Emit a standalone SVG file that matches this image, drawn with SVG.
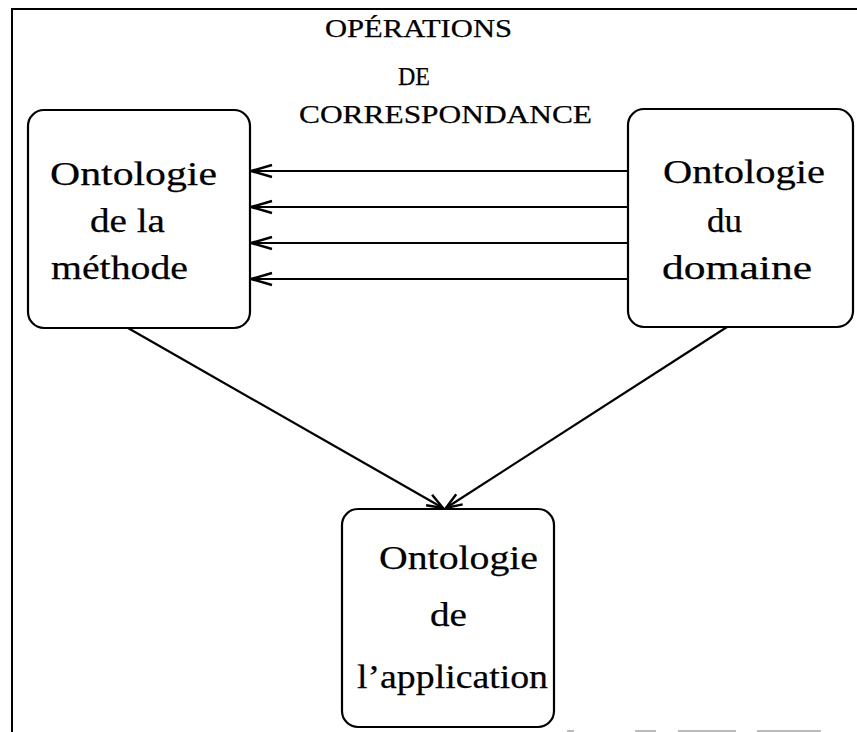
<svg xmlns="http://www.w3.org/2000/svg" width="857" height="732" viewBox="0 0 857 732">
<style>
.frame{fill:none;stroke:#000;stroke-width:2}
.box{fill:#fff;stroke:#000;stroke-width:2.2}
.lbl{font-family:"Liberation Serif","Times New Roman",serif;font-size:34px;fill:#000;stroke:#000;stroke-width:0.25}
.top{font-family:"Liberation Serif","Times New Roman",serif;font-size:25px;fill:#000;stroke:#000;stroke-width:0.25}
.conn{stroke:#000;stroke-width:2.2;fill:none}
.head{stroke:#000;stroke-width:2.4;fill:none;stroke-linejoin:miter}
</style>
<defs>
<marker id="arrH" markerUnits="userSpaceOnUse" markerWidth="24" markerHeight="16" viewBox="-1 -8 24 16" refX="21" refY="0" orient="auto" overflow="visible">
<path class="head" d="M0,-6 L21,0 L0,6"/>
</marker>
<marker id="arrD" markerUnits="userSpaceOnUse" markerWidth="20" markerHeight="16" viewBox="-1 -8 20 16" refX="16" refY="0" orient="auto" overflow="visible">
<path class="head" d="M0,-6 L16,0 L0,6"/>
</marker>
</defs>
<rect width="857" height="732" fill="#fff"/>
<g id="frame">
<path class="frame" d="M12,732 L12,9 L857,9"/>
<path d="M567,731 H574 M635,731 H656 M678,731 H736 M757,731 H821" stroke="#bbb" stroke-width="2" fill="none"/>
</g>
<g id="title">
<text class="top" x="325" y="37" textLength="187" lengthAdjust="spacingAndGlyphs">OPÉRATIONS</text>
<text class="top" x="398" y="85" textLength="32" lengthAdjust="spacingAndGlyphs">DE</text>
<text class="top" x="299" y="123" textLength="293" lengthAdjust="spacingAndGlyphs">CORRESPONDANCE</text>
</g>
<g id="connectors">
<line class="conn" x1="628" y1="171" x2="251" y2="171" marker-end="url(#arrH)"/>
<line class="conn" x1="628" y1="207" x2="251" y2="207" marker-end="url(#arrH)"/>
<line class="conn" x1="628" y1="243" x2="251" y2="243" marker-end="url(#arrH)"/>
<line class="conn" x1="628" y1="279" x2="251" y2="279" marker-end="url(#arrH)"/>
<line class="conn" x1="128" y1="328" x2="443" y2="508" marker-end="url(#arrD)"/>
<line class="conn" x1="727" y1="327" x2="446" y2="508" marker-end="url(#arrD)"/>
</g>
<g id="methode">
<rect class="box" x="28" y="110" width="222" height="218" rx="16" ry="16"/>
<text class="lbl" x="50" y="185" textLength="167" lengthAdjust="spacingAndGlyphs">Ontologie</text>
<text class="lbl" x="90" y="232" textLength="75" lengthAdjust="spacingAndGlyphs">de la</text>
<text class="lbl" x="51" y="279" textLength="137" lengthAdjust="spacingAndGlyphs">méthode</text>
</g>
<g id="domaine">
<rect class="box" x="628" y="109" width="225" height="218" rx="16" ry="16"/>
<text class="lbl" x="663" y="183" textLength="162" lengthAdjust="spacingAndGlyphs">Ontologie</text>
<text class="lbl" x="707" y="232" textLength="35" lengthAdjust="spacingAndGlyphs">du</text>
<text class="lbl" x="662" y="279" textLength="150" lengthAdjust="spacingAndGlyphs">domaine</text>
</g>
<g id="application">
<rect class="box" x="342" y="509" width="212" height="218" rx="16" ry="16"/>
<text class="lbl" x="379" y="569" textLength="159" lengthAdjust="spacingAndGlyphs">Ontologie</text>
<text class="lbl" x="430" y="626" textLength="37" lengthAdjust="spacingAndGlyphs">de</text>
<text class="lbl" x="357" y="688" textLength="191" lengthAdjust="spacingAndGlyphs">l’application</text>
</g>
</svg>
